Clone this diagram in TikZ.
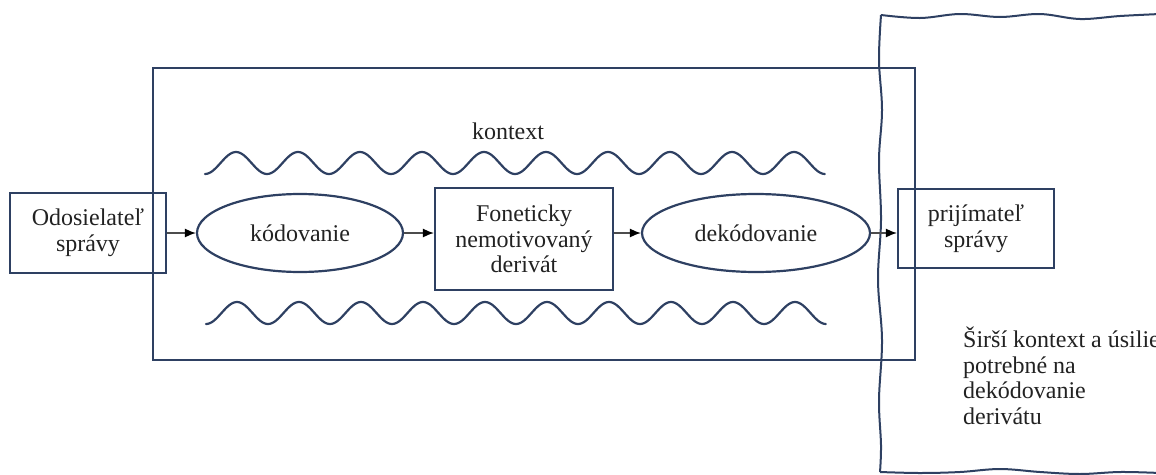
\documentclass[tikz,border=0pt]{standalone}
\usepackage{fontspec}
\setmainfont{Liberation Serif}
\usetikzlibrary{shapes.geometric,arrows.meta,calc}
\definecolor{navy}{HTML}{2E4062}
\definecolor{txt}{HTML}{222222}
\tikzset{
  box/.style={draw=navy, line width=2.2pt, rectangle, inner sep=0pt, align=center, text=txt,
    font=\fontsize{24}{25.5}\selectfont},
  oval/.style={draw=navy, line width=2.2pt, ellipse, inner sep=0pt, align=center, text=txt,
    font=\fontsize{24}{25.5}\selectfont},
  lbl/.style={inner sep=0pt, text=txt, font=\fontsize{24}{25.5}\selectfont},
  conn/.style={draw=black!70, line width=1.3pt, -{Latex[length=11pt,width=9pt,black]}},
  wave/.style={draw=navy, line width=2.2pt, line cap=round},
  edge/.style={draw=navy, line width=2pt}
}
\begin{document}
\begin{tikzpicture}[x=1pt,y=-1pt]
\useasboundingbox (0,0) rectangle (1156,474);
% wider context region
\draw[edge] plot[smooth, tension=0.6] coordinates {(1160,14) (1120,16) (1080,19) (1040,14) (1000,17) (960,14) (920,18) (881,15)};
\draw[edge] plot[smooth, tension=0.6] coordinates {(881,15) (879,60) (882,110) (879,160) (881,220) (878,280) (882,340) (879,400) (881,445) (880,472)};
\draw[edge] plot[smooth, tension=0.6] coordinates {(880,472) (920,473) (960,472) (1000,469) (1040,472) (1080,474) (1120,472) (1160,473)};
% big context rectangle
\node[draw=navy, line width=2.2pt, rectangle, inner sep=0pt, minimum width=762pt, minimum height=292pt] (ctx) at (534,214) {};
% waves
\draw[wave] plot[domain=0:10, samples=400, smooth] ({205+62*\x}, {163+11*cos(360*\x)});
\draw[wave] plot[domain=0:10, samples=400, smooth] ({206+62*\x}, {313+11*cos(360*\x)});
\node[lbl] (kontext) at (508,131) {kontext};
% nodes
\node[box, minimum width=156pt, minimum height=80pt] (send) at (88,233) {Odosielateľ\\správy};
\node[oval, minimum width=206pt, minimum height=78pt] (kod) at (300,233) {kódovanie};
\node[box, minimum width=178pt, minimum height=102pt] (fon) at (524,239) {Foneticky\\nemotivovaný\\derivát};
\node[oval, minimum width=228pt, minimum height=78pt] (dek) at (756,233) {dekódovanie};
\node[box, minimum width=156pt, minimum height=79pt] (prij) at (976,228.5) {prijímateľ\\správy};
% arrows
\draw[conn] (send.east |- kod.west) -- (kod.west);
\draw[conn] (kod.east) -- (kod.east -| fon.west);
\draw[conn] (kod.east -| fon.east) -- (dek.west);
\draw[conn] (dek.east) -- (dek.east -| prij.west);
% side text
\node[lbl, anchor=north west, align=left] (wide) at (963,327) {Širší kontext a úsilie\\potrebné na\\dekódovanie\\derivátu};
\end{tikzpicture}
\end{document}
